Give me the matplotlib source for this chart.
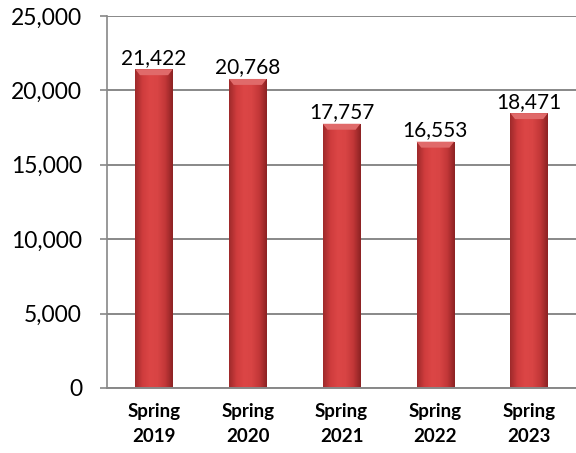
import numpy as np
import matplotlib
matplotlib.use("Agg")
import matplotlib.pyplot as plt
from matplotlib.colors import LinearSegmentedColormap
from matplotlib.patches import Polygon

plt.rcParams['font.family'] = ['Lato', 'DejaVu Sans']

categories = ['Spring\n2019', 'Spring\n2020', 'Spring\n2021', 'Spring\n2022', 'Spring\n2023']
values = [21422, 20768, 17757, 16553, 18471]

fig = plt.figure(figsize=(5.76, 4.53), dpi=100)
ax = fig.add_axes([0.186, 0.1435, 0.814, 0.8212])

x = np.arange(len(categories))
width = 0.4

# horizontal shading across each bar
cmap = LinearSegmentedColormap.from_list('bar', ['#9e2a2b', '#cf3c3d', '#dc4646', '#d84444', '#c23738', '#8c2223'])
grad = np.linspace(0, 1, 200).reshape(1, -1)

bars = ax.bar(x, values, width, color='#cf3c3d', zorder=3)
for b, v in zip(bars, values):
    x0 = b.get_x()
    x1 = x0 + b.get_width()
    im = ax.imshow(grad, cmap=cmap, aspect='auto', extent=[x0, x1, 0, v], zorder=3.1)
    im.set_clip_path(b)
    # bevel on the top
    bev = 400
    dx = 0.05
    top = Polygon([[x0, v], [x1, v], [x1 - dx, v - bev], [x0 + dx, v - bev]],
                  closed=True, facecolor='#e06a6a', edgecolor='none', zorder=3.2)
    ax.add_patch(top)
    ax.text(b.get_x() + b.get_width() / 2, v + 100, f'{v:,}', ha='center', va='bottom',
            fontsize=15, color='black', zorder=4)

ax.set_xlim(-0.5, len(categories) - 0.5)
ax.set_ylim(0, 25000)
ax.set_yticks(range(0, 25001, 5000))
ax.set_yticklabels([f'{t:,}' for t in range(0, 25001, 5000)], fontsize=16.5)
ax.set_xticks(x)
ax.set_xticklabels(categories, fontsize=13.5, fontweight='bold', linespacing=1.55)
ax.tick_params(axis='x', length=0, pad=11)
ax.tick_params(axis='y', length=5, width=1.2, color='#888888', pad=13)

ax.yaxis.grid(True, color='#888888', linewidth=1.4, zorder=0)
for s in ['top', 'right']:
    ax.spines[s].set_visible(False)
ax.spines['left'].set_color('#888888')
ax.spines['left'].set_linewidth(1.2)
ax.spines['bottom'].set_color('#888888')
ax.spines['bottom'].set_linewidth(1.4)
ax.spines['bottom'].set_zorder(5)

fig.savefig('out.png', dpi=100)
